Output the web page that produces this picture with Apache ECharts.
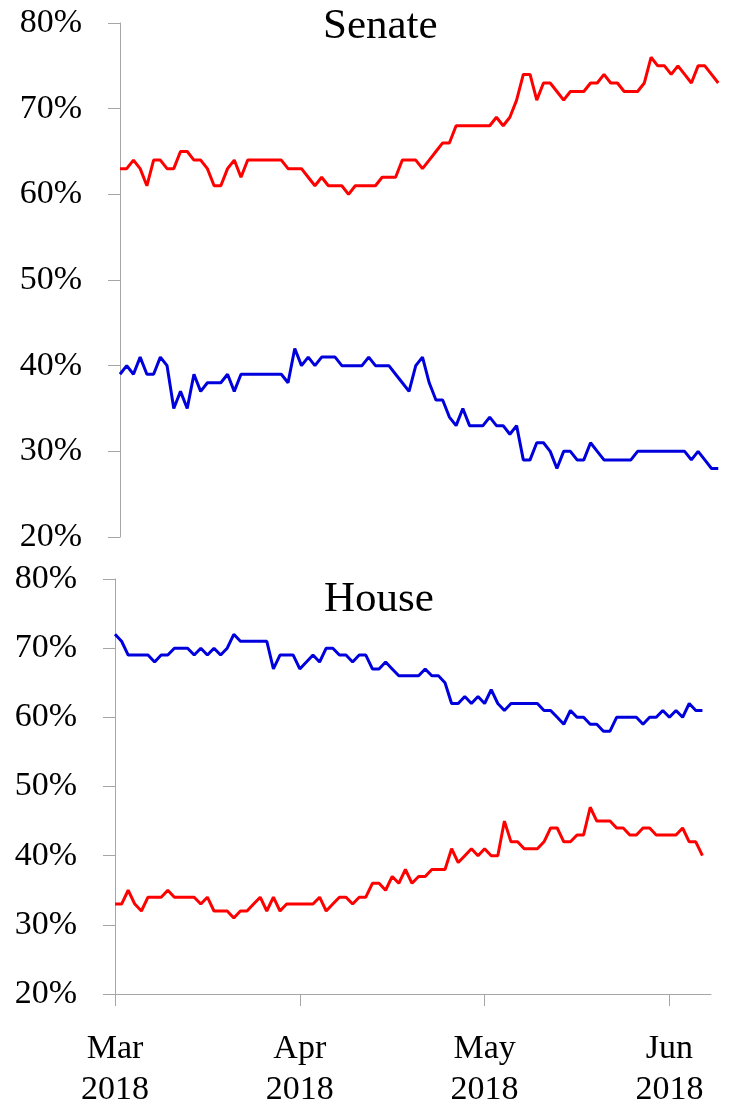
<!DOCTYPE html>
<html>
<head>
<meta charset="utf-8">
<script src="https://cdn.jsdelivr.net/npm/echarts@6/dist/echarts.min.js"></script>
<style>
  html, body { margin: 0; padding: 0; background: #fff; }
  #chart { width: 730px; height: 1111px; }
</style>
</head>
<body>
<div id="chart"></div>
<script>
// one point per poll update, index 0 = start of March 2018
const senateRed = [
  63, 63, 64, 63, 61, 64, 64, 63, 63, 65, 65, 64, 64, 63, 61, 61, 63, 64, 62, 64,
  64, 64, 64, 64, 64, 63, 63, 63, 62, 61, 62, 61, 61, 61, 60, 61, 61, 61, 61, 62,
  62, 62, 64, 64, 64, 63, 64, 65, 66, 66, 68, 68, 68, 68, 68, 68, 69, 68, 69, 71,
  74, 74, 71, 73, 73, 72, 71, 72, 72, 72, 73, 73, 74, 73, 73, 72, 72, 72, 73, 76,
  75, 75, 74, 75, 74, 73, 75, 75, 74, 73
]
const senateBlue = [
  39, 40, 39, 41, 39, 39, 41, 40, 35, 37, 35, 39, 37, 38, 38, 38, 39, 37, 39, 39,
  39, 39, 39, 39, 39, 38, 42, 40, 41, 40, 41, 41, 41, 40, 40, 40, 40, 41, 40, 40,
  40, 39, 38, 37, 40, 41, 38, 36, 36, 34, 33, 35, 33, 33, 33, 34, 33, 33, 32, 33,
  29, 29, 31, 31, 30, 28, 30, 30, 29, 29, 31, 30, 29, 29, 29, 29, 29, 30, 30, 30,
  30, 30, 30, 30, 30, 29, 30, 29, 28, 28
]
const houseBlue = [
  72, 71, 69, 69, 69, 69, 68, 69, 69, 70, 70, 70, 69, 70, 69, 70, 69, 70, 72, 71,
  71, 71, 71, 71, 67, 69, 69, 69, 67, 68, 69, 68, 70, 70, 69, 69, 68, 69, 69, 67,
  67, 68, 67, 66, 66, 66, 66, 67, 66, 66, 65, 62, 62, 63, 62, 63, 62, 64, 62, 61,
  62, 62, 62, 62, 62, 61, 61, 60, 59, 61, 60, 60, 59, 59, 58, 58, 60, 60, 60, 60,
  59, 60, 60, 61, 60, 61, 60, 62, 61, 61
]
const houseRed = [
  33, 33, 35, 33, 32, 34, 34, 34, 35, 34, 34, 34, 34, 33, 34, 32, 32, 32, 31, 32,
  32, 33, 34, 32, 34, 32, 33, 33, 33, 33, 33, 34, 32, 33, 34, 34, 33, 34, 34, 36,
  36, 35, 37, 36, 38, 36, 37, 37, 38, 38, 38, 41, 39, 40, 41, 40, 41, 40, 40, 45,
  42, 42, 41, 41, 41, 42, 44, 44, 42, 42, 43, 43, 47, 45, 45, 45, 44, 44, 43, 43,
  44, 44, 43, 43, 43, 43, 44, 42, 42, 40
]
const monthTicks = [0, 28, 56, 84]
const monthLabels = ['Mar\n2018', 'Apr\n2018', 'May\n2018', 'Jun\n2018']
const panelTitles = ['Senate', 'House']

const serif = 'Liberation Serif'
const gray = '#a6a6a6'
const RED = '#ff0000'
const BLUE = '#0000dd'

const toPoints = arr => arr.map((v, i) => [i, v])

function yAxis(gridIndex) {
  return {
    type: 'value',
    gridIndex,
    min: 20,
    max: 80,
    interval: 10,
    axisLine: { show: true, onZero: false, lineStyle: { color: gray, width: 1 } },
    axisTick: { show: true, length: 12, lineStyle: { color: gray } },
    splitLine: { show: false },
    axisLabel: {
      formatter: '{value}%',
      fontFamily: serif,
      fontSize: 34,
      color: '#000',
      margin: 38
    }
  }
}

function line(name, data, color, idx) {
  return {
    type: 'line',
    name,
    xAxisIndex: idx,
    yAxisIndex: idx,
    data: toPoints(data),
    showSymbol: false,
    symbol: 'none',
    lineStyle: { color, width: 3 },
    itemStyle: { color },
    z: 3
  }
}

const chart = echarts.init(document.getElementById('chart'))
chart.setOption({
  animation: false,
  backgroundColor: '#fff',
  title: [
    {
      text: panelTitles[0], left: 323, top: 5, padding: 0,
      textStyle: { fontFamily: serif, fontSize: 43, fontWeight: 'normal', color: '#000' }
    },
    {
      text: panelTitles[1], left: 324, top: 578, padding: 0,
      textStyle: { fontFamily: serif, fontSize: 43, fontWeight: 'normal', color: '#000' }
    }
  ],
  grid: [
    { left: 120, right: 3, top: 23, height: 514 },
    { left: 115, right: 19, top: 579, height: 426 }
  ],
  xAxis: [
    { type: 'value', gridIndex: 0, min: 0, max: 90.3, show: false },
    {
      type: 'value',
      gridIndex: 1,
      min: 0,
      max: 90.3,
      axisLine: { show: true, onZero: false, lineStyle: { color: gray, width: 1 } },
      axisTick: { show: true, length: 12, customValues: monthTicks, lineStyle: { color: gray } },
      splitLine: { show: false },
      axisLabel: {
        customValues: monthTicks,
        formatter: v => monthLabels[monthTicks.indexOf(v)] || '',
        fontFamily: serif,
        fontSize: 34,
        lineHeight: 41,
        color: '#000',
        margin: 35
      }
    }
  ],
  yAxis: [yAxis(0), yAxis(1)],
  series: [
    line('Senate red', senateRed, RED, 0),
    line('Senate blue', senateBlue, BLUE, 0),
    line('House blue', houseBlue, BLUE, 1),
    line('House red', houseRed, RED, 1)
  ]
})
</script>
</body>
</html>
